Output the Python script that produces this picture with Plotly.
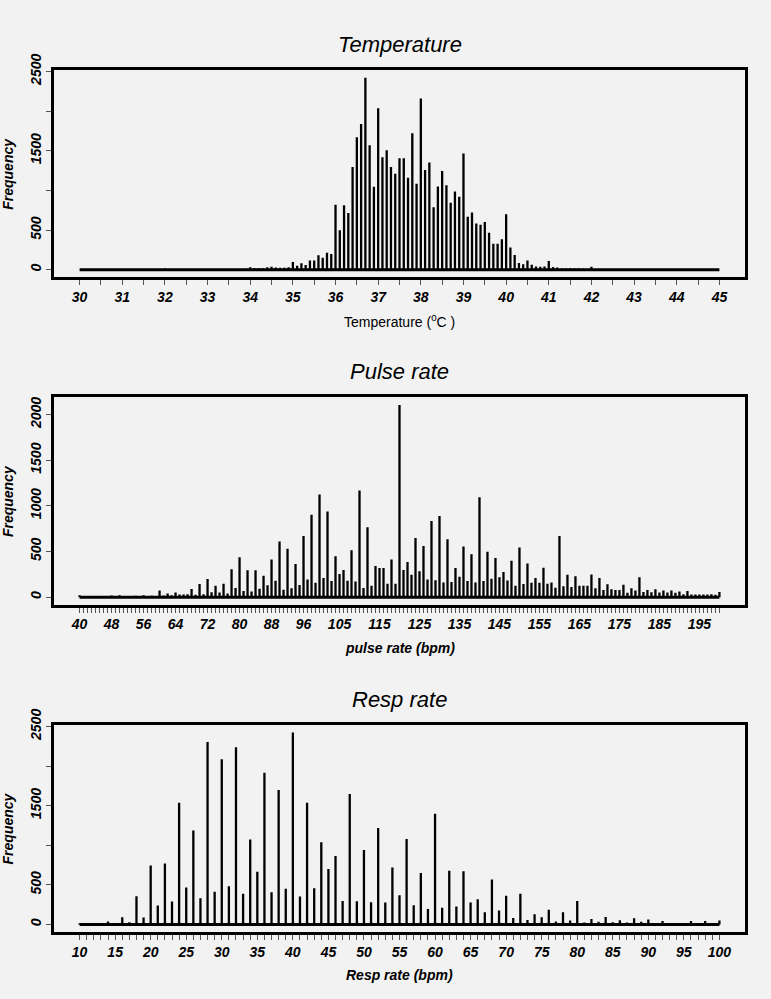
import plotly.graph_objects as go

# ---------------- data ----------------
temp_celsius = [round(30 + i * 0.1, 1) for i in range(151)]
temp_freq = [
    2, 0, 1, 0, 0, 2, 0, 1, 0, 1,            # 30.0-30.9
    3, 0, 1, 0, 2, 1, 0, 1, 2, 3,            # 31
    15, 2, 3, 2, 4, 5, 3, 4, 6, 10,          # 32
    10, 5, 6, 8, 7, 8, 9, 10, 8, 12,         # 33
    33, 20, 20, 20, 33, 37, 29, 25, 25, 33,  # 34
    99, 50, 83, 62, 116, 116, 182, 153, 215, 198,          # 35
    821, 499, 815, 716, 1295, 1671, 1836, 2420, 1570, 1046,  # 36
    2036, 1419, 1506, 1295, 1209, 1407, 1407, 1159, 1720, 1085,  # 37
    2160, 1258, 1353, 788, 1050, 1246, 1066, 846, 988, 920,  # 38
    1467, 668, 722, 582, 567, 602, 466, 328, 328, 386,      # 39
    699, 281, 188, 87, 70, 118, 64, 41, 37, 43,             # 40
    111, 35, 30, 18, 15, 20, 18, 15, 12, 10,                # 41
    38, 5, 3, 2, 3, 2, 1, 2, 0, 1,                          # 42
    2, 0, 1, 0, 0, 1, 0, 0, 1, 0,                           # 43
    1, 0, 0, 0, 0, 1, 0, 0, 0, 0,                           # 44
    0,                                                      # 45.0
]
temp_tick_labels = list(range(30, 46))
temp_minor_ticks = [30 + i * 0.5 for i in range(31)]

pulse_bpm = list(range(40, 201))
pulse_freq = [
    20, 8, 10, 8, 10, 8, 10, 8, 18, 8,
    20, 8, 12, 8, 15, 10, 20, 10, 15, 8,
    72, 18, 40, 22, 50, 29, 29, 32, 90, 25,
    143, 32, 200, 54, 125, 50, 147, 40, 305, 100,
    437, 68, 294, 61, 294, 93, 233, 129, 412, 179,
    609, 82, 530, 97, 362, 133, 670, 194, 903, 158,
    1125, 211, 939, 176, 448, 254, 297, 179, 513, 172,
    1168, 100, 767, 125, 340, 319, 319, 147, 412, 147,
    2104, 297, 384, 244, 649, 283, 559, 194, 835, 186,
    889, 161, 634, 165, 319, 222, 556, 176, 470, 161,
    1093, 176, 498, 201, 430, 219, 276, 183, 398, 125,
    545, 143, 369, 158, 211, 158, 323, 147, 161, 104,
    670, 118, 244, 111, 229, 125, 125, 125, 247, 97,
    211, 79, 140, 86, 79, 79, 136, 47, 97, 72,
    219, 57, 79, 54, 86, 50, 72, 50, 72, 47,
    61, 32, 68, 29, 29, 29, 29, 29, 32, 25,
    57,
]
pulse_tick_labels = [40, 48, 56, 64, 72, 80, 88, 96, 105, 115, 125, 135, 145,
                     155, 165, 175, 185, 195]
pulse_minor_ticks = list(range(40, 201))

resp_bpm = list(range(10, 101))
resp_freq = [
    15, 8, 8, 8, 37, 20, 91, 29, 356, 87,
    745, 240, 770, 290, 1536, 468, 1188, 331, 2305, 414,
    2086, 484, 2239, 389, 1072, 666, 1916, 406, 1697, 451,
    2425, 352, 1536, 459, 1039, 700, 865, 298, 1647, 294,
    940, 281, 1217, 277, 720, 368, 1080, 244, 650, 195,
    1399, 211, 679, 228, 671, 277, 318, 153, 567, 178,
    364, 83, 389, 58, 128, 91, 186, 37, 153, 50,
    298, 25, 70, 33, 95, 29, 54, 25, 79, 33,
    62, 17, 45, 17, 17, 17, 45, 17, 45, 17,
    50,
]
resp_tick_labels = list(range(10, 101, 5))
resp_minor_ticks = list(range(10, 101))

y_labels_sparse = [0, 500, 1500, 2500]
y_labels_full = [0, 500, 1000, 1500, 2000]
y_minor_ticks = [0, 500, 1000, 1500, 2000, 2500]

panel_titles = ["Temperature", "Pulse rate", "Resp rate"]
x_titles = ["Temperature (<sup>0</sup>C )", "<b><i>pulse rate (bpm)</i></b>",
            "<b><i>Resp rate (bpm)</i></b>"]

# ---------------- figure ----------------
W, H = 771, 999
FONT = "Liberation Sans, Arial, Helvetica, sans-serif"
BG = "#F2F2F2"
TICKC = "#555555"

box_left, box_right = 54, 745
box_tops = [54, 387, 720]
box_h = 211

fig = go.Figure()

panels = [
    (temp_celsius, temp_freq, temp_tick_labels, temp_minor_ticks, y_labels_sparse),
    (pulse_bpm, pulse_freq, pulse_tick_labels, pulse_minor_ticks, y_labels_full),
    (resp_bpm, resp_freq, resp_tick_labels, resp_minor_ticks, y_labels_sparse),
]

minor_style = dict(ticks="outside", ticklen=5, tickwidth=1, tickcolor=TICKC,
                   showgrid=False, tickmode="array")

layout_axes = {}
for i, (cats, vals, xlab, xminor, ylab) in enumerate(panels):
    n = "" if i == 0 else str(i + 1)
    xs, ys = [], []
    for c, v in zip(cats, vals):
        xs += [c, c, None]
        ys += [0, v, None]
    fig.add_trace(go.Scatter(x=xs, y=ys, mode="lines",
                             line=dict(color="black", width=2.3),
                             xaxis="x" + n, yaxis="y" + n,
                             hoverinfo="skip", showlegend=False))
    fig.add_trace(go.Scatter(x=[cats[0], cats[-1]], y=[0, 0], mode="lines",
                             line=dict(color="black", width=3),
                             xaxis="x" + n, yaxis="y" + n,
                             hoverinfo="skip", showlegend=False))
    span = cats[-1] - cats[0]
    ymax = max(vals)
    top = box_tops[i]
    bottom = top + box_h
    common = dict(showline=True, mirror=True, linecolor="black", linewidth=2.5,
                  ticks="outside", ticklen=5, tickwidth=1, tickcolor=TICKC,
                  showgrid=False, zeroline=False,
                  tickfont=dict(family=FONT, size=14, color="black",
                                weight="bold", style="italic"))
    layout_axes["xaxis" + n] = dict(
        common, domain=[box_left / W, box_right / W], anchor="y" + n,
        range=[cats[0] - 0.04 * span, cats[-1] + 0.04 * span],
        tickmode="array", tickvals=xlab, ticktext=[str(v) for v in xlab],
        tickangle=0,
        minor=dict(minor_style, tickvals=[v for v in xminor if v not in xlab]))
    layout_axes["yaxis" + n] = dict(
        common, domain=[1 - bottom / H, 1 - top / H], anchor="x" + n,
        range=[-0.04 * ymax, 1.04 * ymax],
        tickmode="array", tickvals=ylab, ticktext=[str(v) for v in ylab],
        tickangle=-90,
        minor=dict(minor_style, tickvals=[v for v in y_minor_ticks
                                          if v not in ylab and v <= 1.04 * ymax]))

annotations = []
for i in range(3):
    off = 333 * i
    cx = (box_left + box_right) / 2 / W
    annotations.append(dict(
        text=panel_titles[i], x=cx, y=1 - (28 + off) / H, xref="paper", yref="paper",
        xanchor="center", yanchor="middle", showarrow=False,
        font=dict(family=FONT, size=22, color="black", style="italic")))
    annotations.append(dict(
        text=x_titles[i], x=cx, y=1 - (309 + off) / H, xref="paper", yref="paper",
        xanchor="center", yanchor="middle", showarrow=False,
        font=dict(family=FONT, size=14, color="black")))
    annotations.append(dict(
        text="<b><i>Frequency</i></b>", x=8 / W,
        y=1 - (box_tops[i] + box_h / 2) / H, xref="paper", yref="paper",
        xanchor="center", yanchor="middle", showarrow=False, textangle=-90,
        font=dict(family=FONT, size=14, color="black")))

fig.update_layout(
    width=W, height=H, margin=dict(l=0, r=0, t=0, b=0),
    paper_bgcolor=BG, plot_bgcolor=BG, showlegend=False,
    annotations=annotations, **layout_axes)

fig.write_html(
    "out.html",
    config={"displayModeBar": False},
    post_script="document.body.style.margin='0';document.body.style.padding='0';"
                "document.body.style.overflow='hidden';"
                "document.documentElement.style.overflow='hidden';",
)
